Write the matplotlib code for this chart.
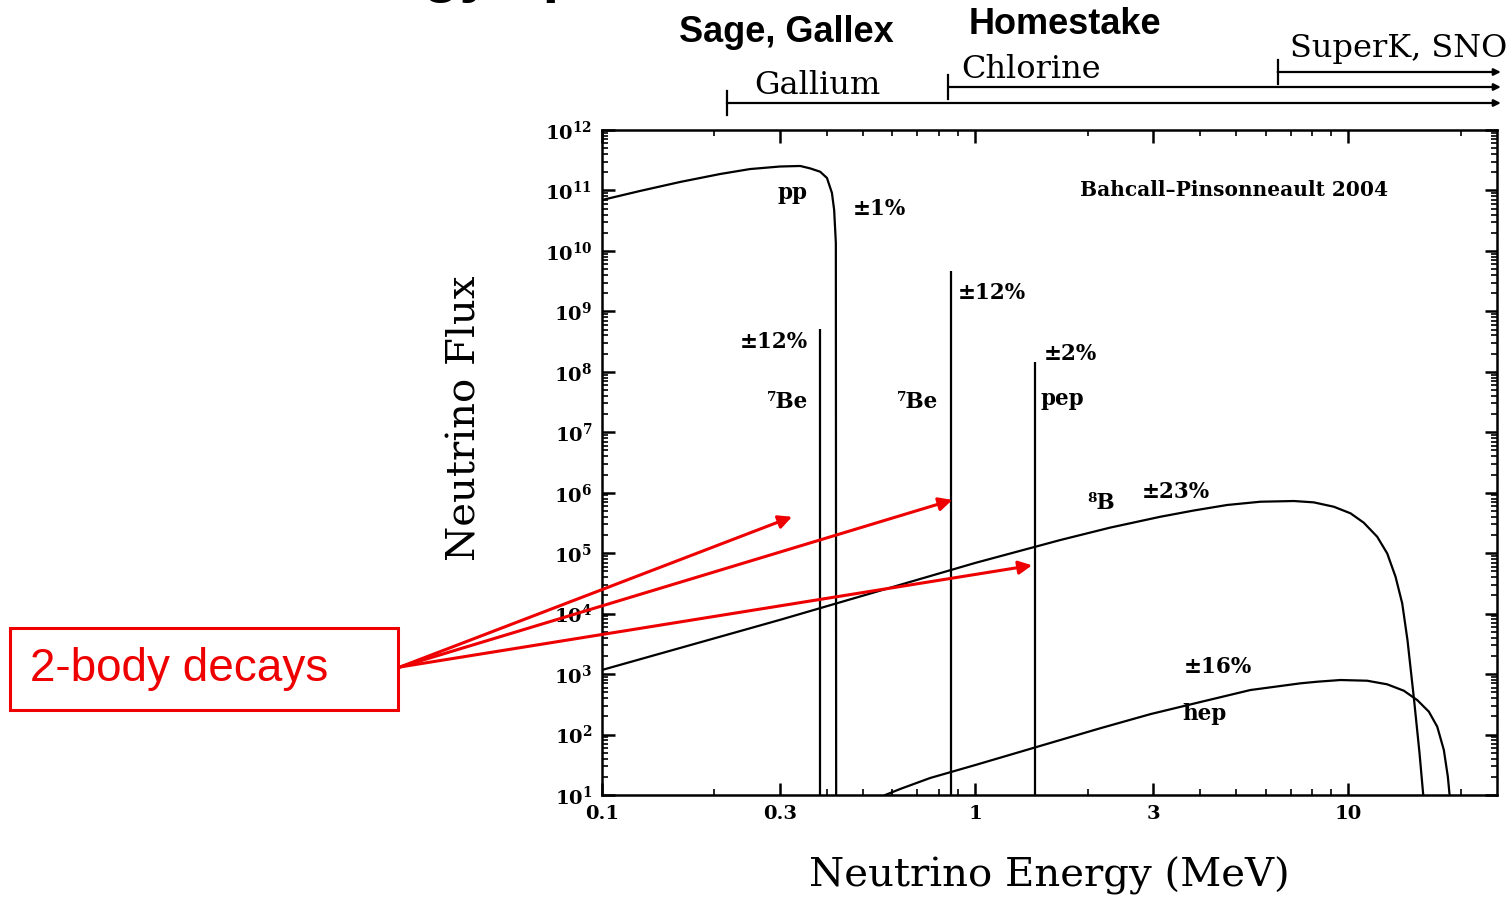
import numpy as np
import matplotlib
matplotlib.use("Agg")
import matplotlib.pyplot as plt
from matplotlib.ticker import FixedLocator, FuncFormatter, NullFormatter
from matplotlib.patches import Rectangle
import matplotlib.transforms as mtransforms

plt.rcParams['mathtext.fontset'] = 'dejavuserif'

# ---- solar neutrino spectra (energy in MeV, flux) ----
pp_E = [0.100, 0.1264, 0.1618, 0.2072, 0.2493, 0.300, 0.3396, 0.3610, 0.3842,
        0.4006, 0.4131, 0.4188, 0.4232, 0.4240]
pp_F = [6.95e10, 9.8e10, 1.38e11, 1.87e11, 2.26e11, 2.49e11, 2.54e11, 2.32e11,
        2.04e11, 1.61e11, 9.1e10, 4.75e10, 1.35e10, 10]

b8_E = [0.10, 0.30, 1.00, 1.69, 2.30, 3.13, 3.85, 4.73, 5.81, 7.14, 8.07, 9.14,
        10.13, 10.99, 11.94, 12.70, 13.37, 13.93, 14.39, 14.97, 15.50, 15.86]
b8_F = [1.17e3, 7.9e3, 6.9e4, 1.65e5, 2.65e5, 4.0e5, 5.08e5, 6.27e5, 7.10e5,
        7.29e5, 6.93e5, 5.86e5, 4.56e5, 3.19e5, 1.87e5, 9.9e4, 4.07e4, 1.48e4,
        3.66e3, 4.02e2, 49.4, 10]

hep_E = [0.574, 0.630, 0.757, 1.00, 1.44, 2.16, 2.95, 4.01, 5.46, 7.43, 8.25,
         9.52, 11.22, 12.70, 14.07, 15.28, 16.42, 17.29, 18.01, 18.46, 18.66]
hep_F = [10, 12.6, 19.1, 31.3, 60.7, 126.8, 218, 345, 545, 703, 748,
         798, 777, 677, 531, 372, 239, 135, 55.5, 20.1, 10]

# mono-energetic lines: (energy, peak flux)
line_E = [0.384, 0.862, 1.442]
line_F = [5.2e8, 4.7e9, 1.47e8]

# detector thresholds (MeV)
thr_gallium = 0.216
thr_chlorine = 0.846
thr_superk = 6.46
thr_end = 25.6

x_major = [0.1, 0.3, 1, 3, 10]
x_major_labels = ['0.1', '0.3', '1', '3', '10']
x_minor = [0.2, 0.4, 0.5, 0.6, 0.7, 0.8, 0.9, 2, 4, 5, 6, 7, 8, 9, 20]
y_exps = list(range(1, 13))

W, H = 1512, 898
fig = plt.figure(figsize=(W / 100, H / 100), dpi=100)
ax = fig.add_axes([602 / W, 103 / H, 895 / W, 665 / H])
ax.set_xscale('log')
ax.set_yscale('log')
ax.set_xlim(0.1, 25)
ax.set_ylim(10, 1e12)

lw = 1.6
ax.plot(pp_E, pp_F, color='black', lw=lw, solid_joinstyle='round')
ax.plot(b8_E, b8_F, color='black', lw=lw, solid_joinstyle='round')
ax.plot(hep_E, hep_F, color='black', lw=lw, solid_joinstyle='round')
ax.vlines(line_E, 10, line_F, color='black', lw=lw)

# ticks
ax.xaxis.set_major_locator(FixedLocator(x_major))
ax.xaxis.set_minor_locator(FixedLocator(x_minor))
ax.xaxis.set_major_formatter(FuncFormatter(
    lambda v, p: x_major_labels[min(range(len(x_major)), key=lambda i: abs(np.log10(x_major[i] / v)))]))
ax.xaxis.set_minor_formatter(NullFormatter())
ax.yaxis.set_major_locator(FixedLocator([10.0 ** e for e in y_exps]))
ax.yaxis.set_minor_locator(FixedLocator([m * 10.0 ** e for e in range(1, 12) for m in range(2, 10)]))
ax.yaxis.set_major_formatter(FuncFormatter(lambda v, p: r'$\mathbf{10^{%d}}$' % round(np.log10(v))))
ax.yaxis.set_minor_formatter(NullFormatter())
ax.tick_params(which='both', direction='in', top=True, right=True, colors='black')
ax.tick_params(which='major', length=9, width=1.8, labelsize=14, pad=7)
ax.tick_params(which='minor', length=4.5, width=1.2)
for lab in ax.get_xticklabels() + ax.get_yticklabels():
    lab.set_family('DejaVu Serif')
    lab.set_fontweight('bold')
for s in ax.spines.values():
    s.set_linewidth(1.8)

ax.set_xlabel('Neutrino Energy (MeV)', family='DejaVu Serif', fontsize=29)
ax.xaxis.set_label_coords((1049 - 602) / 895, (795 - 876) / 665)
ax.xaxis.label.set_va('center')
ax.set_ylabel('Neutrino Flux', family='DejaVu Serif', fontsize=29)
ax.yaxis.set_label_coords((465 - 602) / 895, (795 - 418) / 665)
ax.yaxis.label.set_va('center')

# in-plot labels
lab_kw = dict(family='DejaVu Serif', fontweight='bold', fontsize=15.5, va='center')
ax.text(0.356, 9.1e10, 'pp', ha='right', **lab_kw)
ax.text(0.47, 4.9e10, '±1%', ha='left', **lab_kw)
ax.text(0.356, 3.1e8, '±12%', ha='right', **lab_kw)
ax.text(0.356, 3.2e7, '⁷Be', ha='right', **lab_kw)
ax.text(0.796, 3.2e7, '⁷Be', ha='right', **lab_kw)
ax.text(0.90, 2.0e9, '±12%', ha='left', **lab_kw)
ax.text(1.53, 1.95e8, '±2%', ha='left', **lab_kw)
ax.text(1.50, 3.55e7, 'pep', ha='left', **lab_kw)
ax.text(2.0, 6.8e5, '⁸B', ha='left', **lab_kw)
ax.text(2.80, 1.02e6, '±23%', ha='left', **lab_kw)
ax.text(3.61, 1.32e3, '±16%', ha='left', **lab_kw)
ax.text(3.58, 2.2e2, 'hep', ha='left', **lab_kw)
ax.text(1.91, 1.0e11, 'Bahcall–Pinsonneault 2004', ha='left', va='center',
        family='DejaVu Serif', fontweight='bold', fontsize=14.5)

# detector threshold bars above the axes
tr = mtransforms.blended_transform_factory(ax.transData, fig.transFigure)
bars = [(thr_gallium, 103, 'Gallium', 817, 86),
        (thr_chlorine, 87, 'Chlorine', 1031, 70),
        (thr_superk, 72, 'SuperK, SNO', 1399, 48)]
for e0, ypx, name, lx, ly in bars:
    yf = 1 - ypx / H
    ax.annotate('', xy=(thr_end, yf), xytext=(e0, yf), xycoords=tr, textcoords=tr,
                arrowprops=dict(arrowstyle='-|>', color='black', lw=1.6,
                                mutation_scale=10, shrinkA=0, shrinkB=0),
                annotation_clip=False)
    ax.plot([e0, e0], [yf - 12 / H, yf + 12 / H], transform=tr, color='black',
            lw=1.6, clip_on=False)
    fig.text(lx / W, 1 - ly / H, name, ha='center', va='center',
             family='DejaVu Serif', fontsize=23)

fig.text(786 / W, 1 - 33 / H, 'Sage, Gallex', ha='center', va='center',
         family='Liberation Sans', fontweight='bold', fontsize=26)
fig.text(1065 / W, 1 - 24 / H, 'Homestake', ha='center', va='center',
         family='Liberation Sans', fontweight='bold', fontsize=26)
fig.text(290 / W, 1 + 9 / H, 'Energy spectrum', ha='left', va='baseline',
         family='Liberation Sans', fontweight='bold', fontsize=43)

# red callout
fig.patches.append(Rectangle((10 / W, 1 - 710 / H), 388 / W, 82 / H,
                             transform=fig.transFigure, fill=False,
                             edgecolor='#ee0000', lw=2.2))
fig.text(30 / W, 1 - 669 / H, '2-body decays', ha='left', va='center',
         family='Liberation Sans', fontsize=33, color='#ee0000')
for tip in [(0.323, 4.0e5), (0.868, 7.6e5), (1.42, 6.3e4)]:
    ax.annotate('', xy=tip, xycoords='data', xytext=(400 / W, 1 - 667 / H),
                textcoords='figure fraction',
                arrowprops=dict(arrowstyle='-|>', color='#ee0000', lw=2.2,
                                mutation_scale=20, shrinkA=0, shrinkB=0),
                annotation_clip=False)

fig.savefig('out.png', dpi=100)
